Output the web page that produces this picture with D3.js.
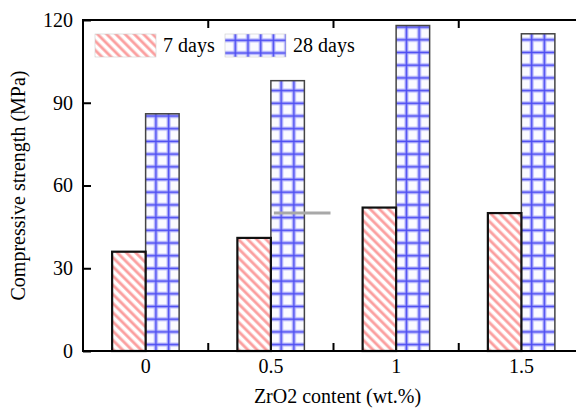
<!DOCTYPE html>
<html>
<head>
<meta charset="utf-8">
<script src="https://cdn.jsdelivr.net/npm/d3@7"></script>
<style>
  body { margin: 0; background: #fff; }
  svg { display: block; }
</style>
</head>
<body>
<svg id="chart" width="576" height="409"></svg>
<script>
// data
var categories = ["0", "0.5", "1", "1.5"];
var seriesNames = ["7 days", "28 days"];
var days7 = [36, 41, 52, 50];
var days28 = [86, 98, 118, 115];
var yTicks = [0, 30, 60, 90, 120];
// stray grey mark seen in the figure, at 50 MPa across the 0.5 / 28 days bar
var strayMark = [{ category: "0.5", value: 50 }];

var width = 576, height = 409;
var margin = { top: 20, right: -8, bottom: 58, left: 83 };
var innerW = width - margin.left - margin.right;
var innerH = height - margin.top - margin.bottom;
var serif = "'Times New Roman', 'Liberation Serif', Times, serif";
var fontSize = 20;

var svg = d3.select("#chart");
var defs = svg.append("defs");

// pink diagonal stripes for 7 days
var pink = defs.append("pattern")
    .attr("id", "pink")
    .attr("patternUnits", "userSpaceOnUse")
    .attr("width", 6.5)
    .attr("height", 6.5)
    .attr("patternTransform", "rotate(-45)");
pink.append("rect").attr("width", 6.5).attr("height", 6.5).attr("fill", "#fff");
pink.append("rect").attr("x", 0).attr("width", 3.4).attr("height", 6.5).attr("fill", "#fdc0c0");
pink.append("rect").attr("x", 0.9).attr("width", 1.6).attr("height", 6.5).attr("fill", "#fb9a9a");

// blue grid for 28 days
var gs = 12.7;
var blue = defs.append("pattern")
    .attr("id", "blue")
    .attr("patternUnits", "userSpaceOnUse")
    .attr("width", gs)
    .attr("height", gs);
blue.append("rect").attr("width", gs).attr("height", gs).attr("fill", "#fbfbff");
blue.append("rect").attr("x", 8.3).attr("width", 4).attr("height", gs).attr("fill", "#bcbcfc");
blue.append("rect").attr("y", 4.3).attr("width", gs).attr("height", 4).attr("fill", "#bcbcfc");
blue.append("rect").attr("x", 9.5).attr("width", 1.6).attr("height", gs).attr("fill", "#4d4df2");
blue.append("rect").attr("y", 5.5).attr("width", gs).attr("height", 1.6).attr("fill", "#4d4df2");

var fills = { "7 days": "url(#pink)", "28 days": "url(#blue)" };
var strokes = { "7 days": "#111", "28 days": "#444" };
var strokeW = { "7 days": 2.2, "28 days": 1.5 };

var g = svg.append("g")
    .attr("transform", "translate(" + margin.left + "," + margin.top + ")");

var x = d3.scaleBand()
    .domain(categories)
    .range([0, innerW])
    .paddingInner(0.465)
    .paddingOuter(0.465 / 2);

var xSub = d3.scaleBand()
    .domain(seriesNames)
    .range([0, x.bandwidth()]);

var y = d3.scaleLinear()
    .domain([0, 120])
    .range([innerH, 0]);

var rows = categories.map(function(c, i) {
    return { cat: c, values: [
        { name: "7 days", value: days7[i] },
        { name: "28 days", value: days28[i] }
    ] };
});

var gap = x.step() - x.bandwidth();

var groups = g.selectAll(".group")
    .data(rows)
    .enter()
    .append("g")
    .attr("transform", d => "translate(" + x(d.cat) + ",0)");

// 28 days first so the 7-day outline sits on top at the shared edge
var bars = groups.selectAll(".bar")
    .data(d => d.values.slice().reverse())
    .enter()
    .append("g")
    .attr("transform", d => "translate(" + xSub(d.name) + "," + innerH + ")");

bars.append("rect")
    .attr("x", 0)
    .attr("y", d => y(d.value) - innerH)
    .attr("width", xSub.bandwidth())
    .attr("height", d => innerH - y(d.value))
    .attr("fill", d => fills[d.name])
    .attr("stroke", d => strokes[d.name])
    .attr("stroke-width", d => strokeW[d.name]);

// stray mark, on top of the bar
g.selectAll(".stray")
    .data(strayMark)
    .enter()
    .append("line")
    .attr("x1", d => x(d.category) + xSub("28 days") + 3)
    .attr("x2", d => x(d.category) + x.bandwidth() + gap / 2 - 3)
    .attr("y1", d => y(d.value))
    .attr("y2", d => y(d.value))
    .attr("stroke", "#a8a8a8")
    .attr("stroke-width", 3);

// frame
g.append("rect")
    .attr("width", innerW)
    .attr("height", innerH)
    .attr("fill", "none")
    .attr("stroke", "#000")
    .attr("stroke-width", 2);

// y axis, ticks inward
var yAxis = g.append("g")
    .call(d3.axisLeft(y).tickValues(yTicks).tickSizeInner(-8).tickSizeOuter(0).tickPadding(10));
yAxis.attr("font-family", serif).attr("font-size", fontSize);
yAxis.select(".domain").remove();
yAxis.selectAll("line").attr("stroke-width", 2);
yAxis.selectAll("text").attr("fill", "#000");

var yAxisR = g.append("g")
    .attr("transform", "translate(" + innerW + ",0)")
    .call(d3.axisRight(y).tickValues(yTicks.slice(1, -1)).tickSizeInner(-8).tickSizeOuter(0).tickFormat(""));
yAxisR.select(".domain").remove();
yAxisR.selectAll("line").attr("stroke-width", 2);

// x axis labels at category centres
var xAxis = g.append("g")
    .attr("transform", "translate(0," + innerH + ")")
    .call(d3.axisBottom(x).tickSize(0).tickPadding(8));
xAxis.attr("font-family", serif).attr("font-size", fontSize);
xAxis.select(".domain").remove();
xAxis.selectAll("text").attr("fill", "#000");

// ticks between categories, bottom and top, pointing inward
var bounds = categories.slice(1).map(c => x(c) - gap / 2);
[innerH, 0].forEach(function(yy) {
    g.selectAll(null)
        .data(bounds)
        .enter()
        .append("line")
        .attr("x1", d => d)
        .attr("x2", d => d)
        .attr("y1", yy)
        .attr("y2", yy === 0 ? 8 : innerH - 8)
        .attr("stroke", "#000")
        .attr("stroke-width", 2);
});

// axis titles
svg.append("text")
    .attr("x", margin.left + innerW / 2 + 4)
    .attr("y", 403)
    .attr("text-anchor", "middle")
    .attr("font-family", serif)
    .attr("font-size", fontSize)
    .text("ZrO2 content (wt.%)");

svg.append("text")
    .attr("transform", "translate(25," + (margin.top + innerH / 2) + ") rotate(-90)")
    .attr("text-anchor", "middle")
    .attr("font-family", serif)
    .attr("font-size", fontSize)
    .text("Compressive strength (MPa)");

// legend
var legend = g.append("g")
    .attr("transform", "translate(12,14)");

var items = legend.selectAll(".legend-item")
    .data(seriesNames)
    .enter()
    .append("g")
    .attr("transform", (d, i) => "translate(" + (i * 130) + ",0)");

items.append("rect")
    .attr("width", 61)
    .attr("height", 23)
    .attr("fill", d => fills[d])
    .attr("stroke", "#ccc")
    .attr("stroke-width", 0.6);

items.append("text")
    .attr("x", 68)
    .attr("y", 18)
    .attr("font-family", serif)
    .attr("font-size", fontSize)
    .text(d => d);
</script>
</body>
</html>
